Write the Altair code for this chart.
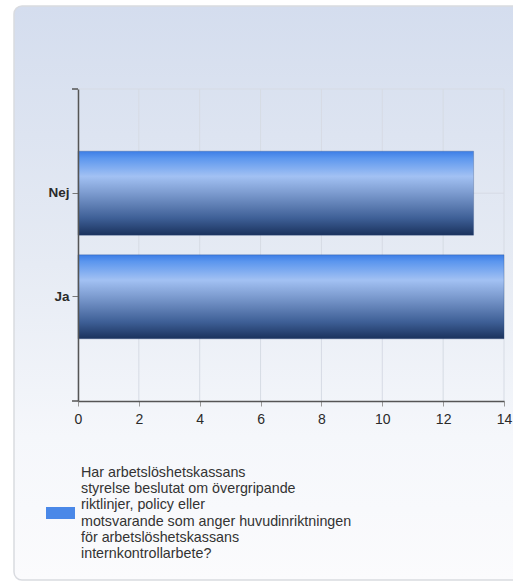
import altair as alt
import pandas as pd

# Answers and number of responses
categories = ["Nej", "Ja"]
counts = [13, 14]

# Series label, wrapped the way it is shown in the legend
legend_lines = [
    "Har arbetslöshetskassans",
    "styrelse beslutat om övergripande",
    "riktlinjer, policy eller",
    "motsvarande som anger huvudinriktningen",
    "för arbetslöshetskassans",
    "internkontrollarbete?",
]
x_ticks = [0, 2, 4, 6, 8, 10, 12, 14]

FONT = "Liberation Sans"
PLOT_W, PLOT_H = 426, 312
GRID = "#d6dbe4"

bars_df = pd.DataFrame({"svar": categories, "antal": counts})
legend_df = pd.DataFrame({"serie": ["\n".join(legend_lines)]})
ticks_df = pd.DataFrame({"antal": x_ticks})
one_row = pd.DataFrame({"k": [0]})

y_scale = alt.Scale(domain=categories, paddingInner=0.19, paddingOuter=0.6)
x_scale = alt.Scale(domain=[0, 14], nice=False)

y_axis = alt.Axis(
    labelFont=FONT, labelFontSize=13.5, labelFontWeight="bold", labelColor="#2a2a2a",
    labelPadding=3, tickSize=6, tickColor="#777777", domainColor="#555555",
    domainWidth=1.5, grid=False, zindex=2,
)
x_axis = alt.Axis(
    values=x_ticks, format="d", labelFlush=False,
    labelFont=FONT, labelFontSize=14, labelColor="#2a2a2a", labelPadding=6,
    tickSize=5, tickColor="#999999", domainColor="#555555", domainWidth=1.5,
    grid=False, zindex=2,
)
X = alt.X("antal:Q", title=None, scale=x_scale, axis=x_axis)
Y = alt.Y("svar:N", title=None, sort=categories, scale=y_scale, axis=y_axis)

bar_fill = alt.Gradient(
    gradient="linear",
    x1=0, x2=0, y1=0, y2=1,
    stops=[
        alt.GradientStop(color="#3c7de6", offset=0),
        alt.GradientStop(color="#5b96ee", offset=0.08),
        alt.GradientStop(color="#a2c1f3", offset=0.3),
        alt.GradientStop(color="#7c9bcf", offset=0.5),
        alt.GradientStop(color="#3e5f96", offset=0.8),
        alt.GradientStop(color="#1a325d", offset=1),
    ],
)

panel_fill = alt.Gradient(
    gradient="linear",
    x1=0, x2=0, y1=0, y2=1,
    stops=[
        alt.GradientStop(color="#d4ddee", offset=0),
        alt.GradientStop(color="#e6ebf4", offset=0.45),
        alt.GradientStop(color="#f5f7fb", offset=0.75),
        alt.GradientStop(color="#fbfbfd", offset=1),
    ],
)

# Rounded background panel behind the whole chart
panel = alt.Chart(one_row).mark_rect(
    fill=panel_fill, stroke="#d9dbe0", strokeWidth=1.5, cornerRadius=8
).encode(
    x=alt.value(-64), x2=alt.value(460),
    y=alt.value(-83), y2=alt.value(491),
)

# Grid: vertical lines at each tick, horizontal lines at each category, top border
vgrid = alt.Chart(ticks_df).mark_rule(color=GRID, strokeWidth=1).encode(x=X)
hgrid = alt.Chart(bars_df).mark_rule(color=GRID, strokeWidth=1).encode(y=Y)
top_line = alt.Chart(one_row).mark_rule(color=GRID, strokeWidth=1).encode(
    x=alt.value(0), x2=alt.value(PLOT_W), y=alt.value(0)
)

bars = alt.Chart(bars_df).mark_bar(
    fill=bar_fill, stroke="#2a4a80", strokeWidth=0.6, strokeOpacity=0.5
).encode(y=Y, x=X)

# Small end ticks on the category axis
end_tick_top = alt.Chart(one_row).mark_rule(color="#555555", strokeWidth=1.5).encode(
    x=alt.value(-6), x2=alt.value(0), y=alt.value(0)
)
end_tick_bottom = alt.Chart(one_row).mark_rule(color="#555555", strokeWidth=1.5).encode(
    x=alt.value(-6), x2=alt.value(0), y=alt.value(PLOT_H)
)

legend_swatch = alt.Chart(one_row).mark_rect(fill="#4a88e8").encode(
    x=alt.value(-32), x2=alt.value(-3), y=alt.value(418), y2=alt.value(430)
)

legend_text = alt.Chart(legend_df).mark_text(
    align="left", baseline="alphabetic", lineBreak="\n", lineHeight=16.2,
    font=FONT, fontSize=14.3, color="#333333",
).encode(
    text="serie:N", x=alt.value(3), y=alt.value(388)
)

chart = alt.layer(
    panel, vgrid, hgrid, top_line, bars, end_tick_top, end_tick_bottom, legend_swatch, legend_text
).properties(
    width=PLOT_W,
    height=PLOT_H,
    padding={"left": 78, "top": 89, "right": 9, "bottom": 183},
    autosize=alt.AutoSizeParams(type="none"),
    background="white",
).configure_view(stroke=None)

chart.save("out.html", embed_options={"renderer": "svg", "actions": False})
